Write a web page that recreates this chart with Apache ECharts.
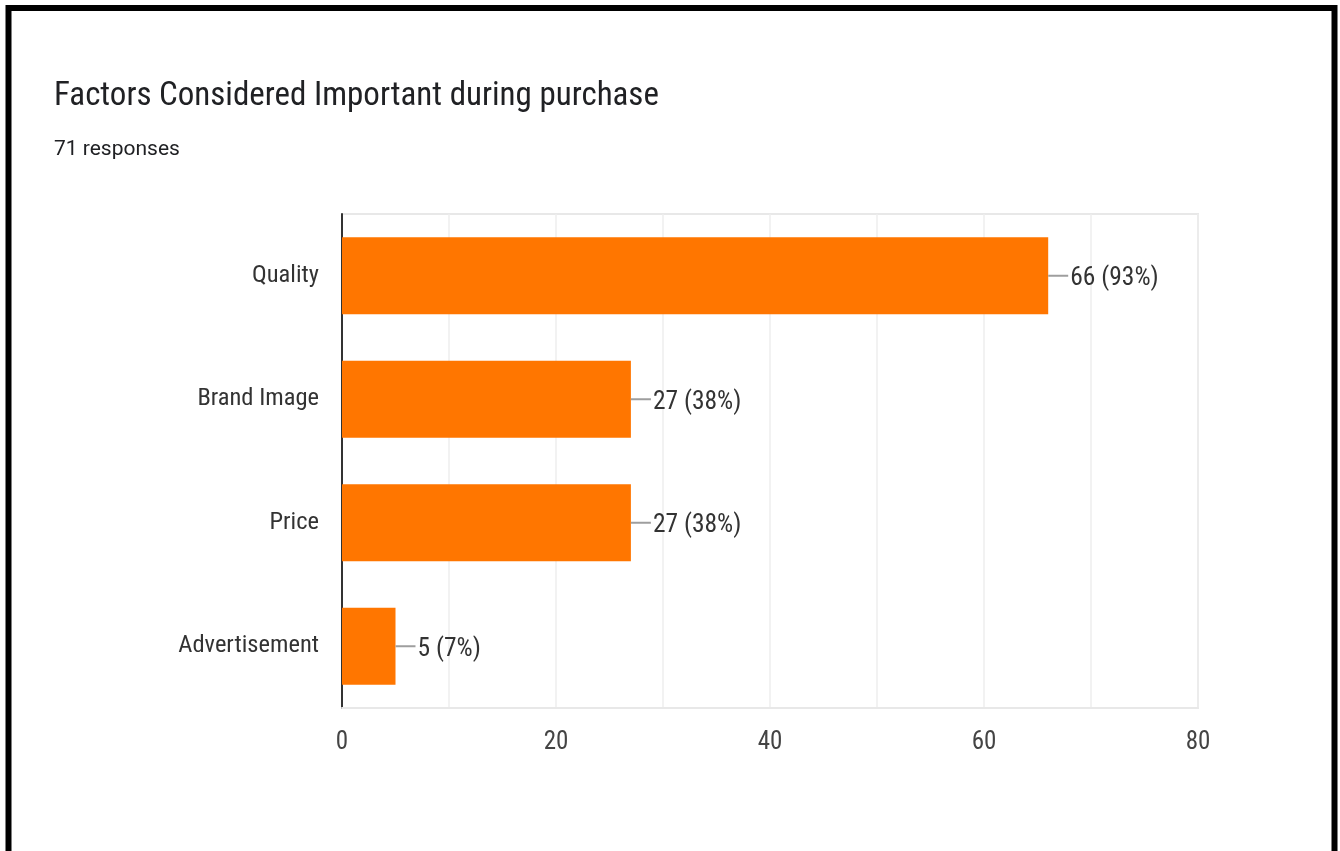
<!DOCTYPE html>
<html>
<head>
<meta charset="utf-8">
<title>Factors Considered Important during purchase</title>
<script src="https://cdn.jsdelivr.net/npm/echarts@6/dist/echarts.min.js"></script>
<style>
  html, body { margin: 0; padding: 0; background: #fff; }
  #chart { width: 1340px; height: 851px; }
</style>
</head>
<body>
<div id="chart"></div>
<script>
// Survey: which factors respondents consider important when buying
const totalResponses = 71;
const categories = ['Quality', 'Brand Image', 'Price', 'Advertisement'];
const counts = [66, 27, 27, 5];
const tickValues = [0, 20, 40, 60, 80];

const narrow = "'Liberation Sans Narrow', 'Roboto Condensed', Roboto, sans-serif";

const chart = echarts.init(document.getElementById('chart'), null, { renderer: 'canvas' });

chart.setOption({
  backgroundColor: '#ffffff',
  animation: false,
  title: {
    text: 'Factors Considered Important during purchase',
    subtext: totalResponses + ' responses',
    left: 49,
    top: 75,
    itemGap: 26,
    textStyle: {
      fontFamily: narrow,
      fontSize: 33,
      fontWeight: 'normal',
      color: '#202124'
    },
    subtextStyle: {
      fontFamily: 'Roboto, sans-serif',
      fontSize: 21,
      color: '#202124'
    }
  },
  graphic: [{
    type: 'polyline',
    shape: { points: [[8.5, 870], [8.5, 8], [1334.5, 8], [1334.5, 870]] },
    style: { stroke: '#000', lineWidth: 6, fill: null },
    silent: true,
    z: 100
  }],
  grid: {
    left: 342,
    top: 214,
    width: 856,
    height: 494,
    outerBoundsMode: 'none',
    show: true,
    borderColor: '#e8e8e8',
    borderWidth: 2
  },
  xAxis: {
    type: 'value',
    min: 0,
    max: 80,
    interval: 10,
    axisLine: { show: true, lineStyle: { color: '#e8e8e8', width: 2 } },
    axisTick: { show: false },
    splitLine: { show: true, lineStyle: { color: '#eeeeee', width: 1.5 } },
    axisLabel: {
      margin: 22,
      fontFamily: narrow,
      fontSize: 25,
      color: '#444',
      formatter: v => (tickValues.indexOf(v) >= 0 ? String(v) : '')
    }
  },
  yAxis: {
    type: 'category',
    inverse: true,
    data: categories,
    axisLine: { show: true, lineStyle: { color: '#333', width: 2 } },
    axisTick: { show: false },
    splitLine: { show: false },
    axisLabel: {
      margin: 23,
      fontFamily: narrow,
      fontSize: 24.5,
      color: '#333',
      padding: [12, 0, 0, 0]
    }
  },
  series: [{
    type: 'bar',
    data: counts,
    barWidth: 77,
    itemStyle: { color: '#ff7600' },
    label: {
      show: true,
      position: 'right',
      distance: 0,
      formatter: p => '{lead|}{val|' + p.value + ' (' + Math.round(p.value / totalResponses * 100) + '%)}',
      rich: {
        lead: { width: 20, height: 2, backgroundColor: '#9e9e9e' },
        val: { fontFamily: narrow, fontSize: 25.5, color: '#333', padding: [6, 0, 0, 2] }
      }
    }
  }]
});
</script>
</body>
</html>
